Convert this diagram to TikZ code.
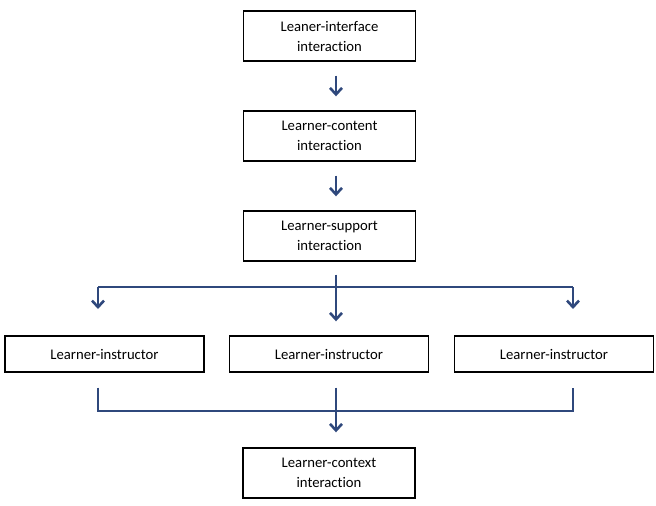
\documentclass[tikz,border=0pt]{standalone}
\usepackage{fontspec}
\setmainfont{Carlito}[Ligatures=NoCommon]
\usetikzlibrary{arrows.meta,positioning,calc}

\definecolor{linkblue}{RGB}{47,72,124}

\begin{document}
\begin{tikzpicture}[
    x=1pt, y=-1pt,
    stage/.style={rectangle, draw=black, line width=1.4pt, minimum width=172pt, minimum height=50pt, inner sep=0pt, align=center, font=\fontsize{14.7}{20}\selectfont},
    kind/.style={stage, minimum width=199pt, minimum height=36pt},
    link/.style={draw=linkblue, line width=1.6pt},
    connection/.style={link, -{Straight Barb[length=6.5pt, width=12pt, line width=2.6pt]}}
]
\useasboundingbox (0,0) rectangle (656,506);

% Stages
\node[stage] (interface) at (329.5,36) {Leaner-interface\\interaction};
\node[stage] (content) at (329.5,136) {Learner-content\\interaction};
\node[stage] (support) at (329.5,236) {Learner-support\\interaction};

\node[kind] (instr1) at (104.5,354) {Learner-instructor};
\node[kind] (instr2) at (329,354) {Learner-instructor};
\node[kind] (instr3) at (554,354) {Learner-instructor};

\node[stage] (context) at (329,473) {Learner-context\\interaction};

% Branch points
\coordinate (split) at (336,287);
\coordinate (splitl) at (98,287);
\coordinate (splitr) at (573,287);
\coordinate (joinl) at (98,411);
\coordinate (joinr) at (573,411);

\path ([xshift=6.5pt, yshift=-14pt]interface.south) edge[connection] ([xshift=6.5pt, yshift=14pt]content.north)
    ([xshift=6.5pt, yshift=-14pt]content.south) edge[connection] ([xshift=6.5pt, yshift=14pt]support.north);

\path ([xshift=6.5pt, yshift=-13pt]support.south) edge[connection] ([xshift=7pt, yshift=14pt]instr2.north)
    (splitl) edge[link] (splitr)
    (splitl) edge[connection] (98,309)
    (splitr) edge[connection] (573,309);

\draw[link] ([xshift=-6.5pt, yshift=-15pt]instr1.south) -- (joinl) -- (joinr) -- ([xshift=19pt, yshift=-15pt]instr3.south);
\path ([xshift=7pt, yshift=-15pt]instr2.south) edge[connection] ([xshift=7pt, yshift=15pt]context.north);

\end{tikzpicture}
\end{document}
